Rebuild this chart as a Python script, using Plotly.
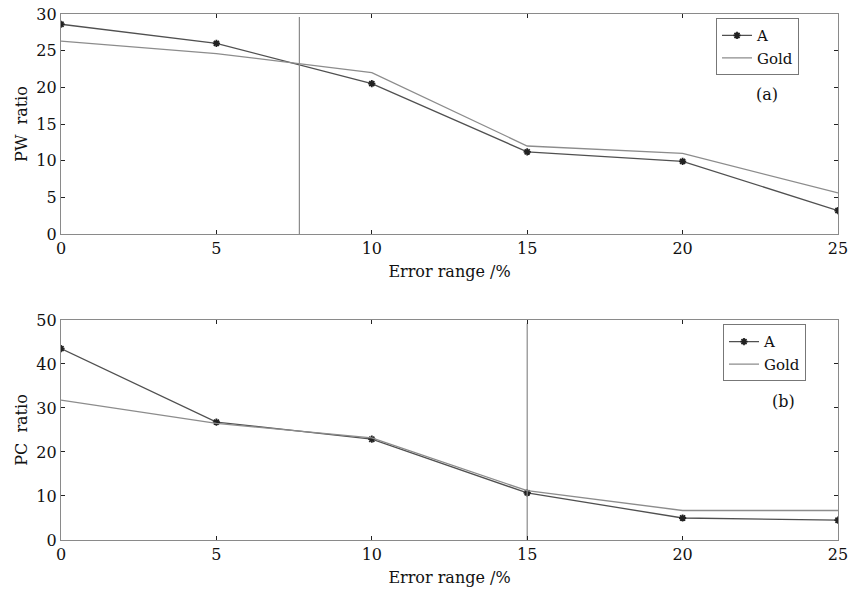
import plotly.graph_objects as go

x_err = [0, 5, 10, 15, 20, 25]
pw_a = [28.6, 26.0, 20.5, 11.2, 9.9, 3.2]
pw_gold = [26.3, 24.6, 22.0, 12.0, 11.0, 5.6]
pc_a = [43.5, 26.8, 22.9, 10.7, 5.0, 4.5]
pc_gold = [31.8, 26.5, 23.2, 11.2, 6.7, 6.7]
vline_pw = [7.67, 7.67]
vline_pw_y = [0, 29.6]
vline_pc = [15, 15]
vline_pc_y = [0, 49.2]
x_ticks = [0, 5, 10, 15, 20, 25]
pw_ticks = [0, 5, 10, 15, 20, 25, 30]
pc_ticks = [0, 10, 20, 30, 40, 50]

FONT = "DejaVu Serif"
A_COLOR = "#505050"
G_COLOR = "#8c8c8c"
AX_COLOR = "#8a8a8a"

fig = go.Figure()
marker = dict(symbol="asterisk-open", size=6, color="#222222", line=dict(width=1.8, color="#222222"))

fig.add_trace(go.Scatter(x=x_err, y=pw_a, mode="lines+markers", name="A",
                         line=dict(color=A_COLOR, width=1.3), marker=marker,
                         xaxis="x", yaxis="y", legend="legend"))
fig.add_trace(go.Scatter(x=x_err, y=pw_gold, mode="lines", name="Gold",
                         line=dict(color=G_COLOR, width=1.3),
                         xaxis="x", yaxis="y", legend="legend"))
fig.add_trace(go.Scatter(x=vline_pw, y=vline_pw_y, mode="lines", showlegend=False,
                         line=dict(color=AX_COLOR, width=1.2), xaxis="x", yaxis="y"))

fig.add_trace(go.Scatter(x=x_err, y=pc_a, mode="lines+markers", name="A",
                         line=dict(color=A_COLOR, width=1.3), marker=marker,
                         xaxis="x2", yaxis="y2", legend="legend2"))
fig.add_trace(go.Scatter(x=x_err, y=pc_gold, mode="lines", name="Gold",
                         line=dict(color=G_COLOR, width=1.3),
                         xaxis="x2", yaxis="y2", legend="legend2"))
fig.add_trace(go.Scatter(x=vline_pc, y=vline_pc_y, mode="lines", showlegend=False,
                         line=dict(color=AX_COLOR, width=1.2), xaxis="x2", yaxis="y2"))

axis_common = dict(showgrid=False, zeroline=False, showline=True, linecolor=AX_COLOR,
                   linewidth=1.3, mirror="ticks", ticks="inside", ticklen=4,
                   automargin=False,
                   tickcolor="#222222", tickfont=dict(family=FONT, size=16, color="#111"))

title_font = dict(family=FONT, size=16, color="#111")
leg_common = dict(xanchor="left", yanchor="top", bgcolor="white", bordercolor="#777",
                  borderwidth=1, font=dict(family=FONT, size=15, color="#111"),
                  tracegroupgap=0, itemwidth=30, entrywidth=62)

fig.update_layout(
    width=851, height=597,
    margin=dict(l=61, r=13, t=14, b=57, autoexpand=False),
    plot_bgcolor="white", paper_bgcolor="white",
    font=dict(family=FONT, color="#111"),
    xaxis=dict(domain=[0, 1], range=[0, 25], tickvals=x_ticks, anchor="y",
               title=dict(text="Error range /%", font=title_font, standoff=8),
               **axis_common),
    yaxis=dict(domain=[0.5817, 1], range=[0, 30], tickvals=pw_ticks, anchor="x",
               title=dict(text="PW  ratio", font=title_font, standoff=4),
               **axis_common),
    xaxis2=dict(domain=[0, 1], range=[0, 25], tickvals=x_ticks, anchor="y2",
                title=dict(text="Error range /%", font=title_font, standoff=8),
                **axis_common),
    yaxis2=dict(domain=[0, 0.4183], range=[0, 50], tickvals=pc_ticks, anchor="x2",
                title=dict(text="PC  ratio", font=title_font, standoff=4),
                **axis_common),
    legend=dict(x=0.843, y=0.992, **leg_common),
    legend2=dict(x=0.852, y=0.41, **leg_common),
    annotations=[
        dict(text="(a)", x=22.7, y=19.0, xref="x", yref="y", showarrow=False,
             font=dict(family=FONT, size=16, color="#111")),
        dict(text="(b)", x=23.26, y=31.4, xref="x2", yref="y2", showarrow=False,
             font=dict(family=FONT, size=16, color="#111")),
    ],
)

fig.write_html("out.html")
